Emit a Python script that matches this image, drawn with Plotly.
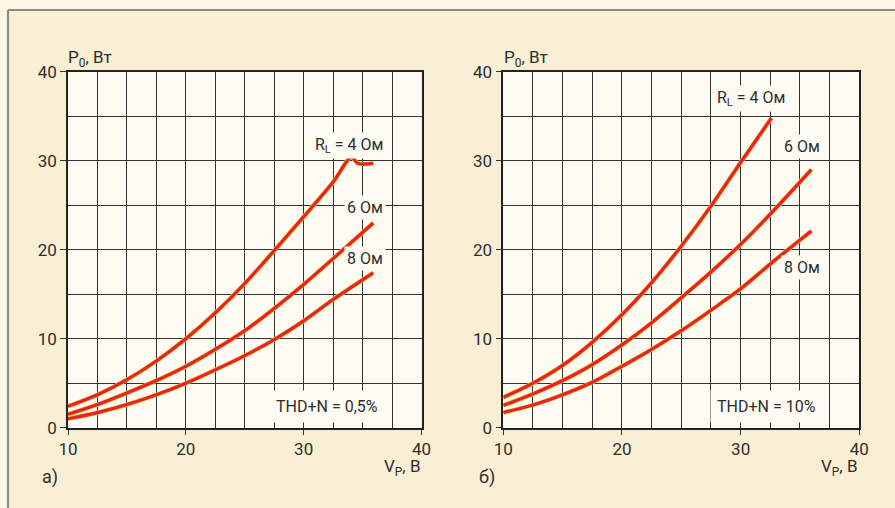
import plotly.graph_objects as go

# ---- data ----
# panel a) THD+N = 0.5 %
a_vp_4 = [10, 12.5, 15, 17.5, 20, 22.5, 25, 27.5, 30, 32.5, 34.05, 34.6, 35.9]
a_po_4 = [2.4, 3.7, 5.4, 7.5, 10.0, 12.9, 16.2, 19.9, 23.7, 27.6, 30.4, 29.7, 29.7]
a_vp_6 = [10, 12.5, 15, 17.5, 20, 22.5, 25, 27.5, 30, 32.5, 35.9]
a_po_6 = [1.5, 2.6, 3.9, 5.3, 6.9, 8.8, 10.9, 13.4, 16.1, 19.0, 23.0]
a_vp_8 = [10, 12.5, 15, 17.5, 20, 22.5, 25, 27.5, 30, 32.5, 35.9]
a_po_8 = [1.0, 1.7, 2.6, 3.7, 5.0, 6.5, 8.1, 9.9, 12.0, 14.4, 17.4]
# panel б) THD+N = 10 %
b_vp_4 = [10, 12.5, 15, 17.5, 20, 22.5, 25, 27.5, 30, 32.6]
b_po_4 = [3.4, 5.0, 7.0, 9.6, 12.7, 16.3, 20.4, 24.9, 29.8, 34.8]
b_vp_6 = [10, 12.5, 15, 17.5, 20, 22.5, 25, 27.5, 30, 32.5, 35.96]
b_po_6 = [2.5, 3.8, 5.3, 7.1, 9.3, 11.8, 14.6, 17.5, 20.6, 24.0, 29.0]
b_vp_8 = [10, 12.5, 15, 17.5, 20, 22.5, 25, 27.5, 30, 32.5, 35.96]
b_po_8 = [1.7, 2.55, 3.7, 5.1, 6.9, 8.8, 10.9, 13.2, 15.6, 18.4, 22.1]

x_ticks = [10, 20, 30, 40]
y_ticks = [0, 10, 20, 30, 40]

W, H = 895, 508
FONT = "Roboto, Liberation Sans, sans-serif"
TXT = "#2e2e2e"
RED = "#e8202a"
YEL = "#f4c51e"
BG = "#f8efd4"
PLOT_BG = "#fdfbf2"

fig = go.Figure()

def add_curve(x, y, xa, ya):
    fig.add_trace(go.Scatter(x=x, y=y, mode="lines", xaxis=xa, yaxis=ya,
                             line=dict(color=YEL, width=4.4, shape="spline", smoothing=0.9),
                             hoverinfo="skip", showlegend=False))
    fig.add_trace(go.Scatter(x=x, y=y, mode="lines", xaxis=xa, yaxis=ya,
                             line=dict(color=RED, width=3.2, shape="spline", smoothing=0.9),
                             showlegend=False))

add_curve(a_vp_4, a_po_4, "x", "y")
add_curve(a_vp_6, a_po_6, "x", "y")
add_curve(a_vp_8, a_po_8, "x", "y")
add_curve(b_vp_4, b_po_4, "x2", "y2")
add_curve(b_vp_6, b_po_6, "x2", "y2")
add_curve(b_vp_8, b_po_8, "x2", "y2")

def xaxis_cfg(dom, anchor):
    return dict(domain=dom, range=[10, 40], anchor=anchor, automargin=False,
                tickvals=x_ticks, ticktext=[str(v) for v in x_ticks],
                showgrid=True, gridcolor="#333333", gridwidth=1.3,
                minor=dict(dtick=2.5, tick0=10, showgrid=True, gridcolor="#333333", gridwidth=1.3, ticks=""),
                ticks="outside", ticklen=5, tickcolor="#333333", tickwidth=1.3,
                showline=True, linecolor="#222222", linewidth=1.6, mirror=True,
                zeroline=False, tickfont=dict(family=FONT, size=17, color=TXT), fixedrange=True)

def yaxis_cfg(dom, anchor):
    return dict(domain=dom, range=[0, 40], anchor=anchor, automargin=False,
                tickvals=y_ticks, ticktext=[str(v) for v in y_ticks],
                showgrid=True, gridcolor="#333333", gridwidth=1.3,
                minor=dict(dtick=5, tick0=0, showgrid=True, gridcolor="#333333", gridwidth=1.3, ticks=""),
                ticks="outside", ticklen=6, tickcolor="#333333", tickwidth=1.3,
                showline=True, linecolor="#222222", linewidth=1.6, mirror=True,
                zeroline=False, tickfont=dict(family=FONT, size=17, color=TXT), fixedrange=True)

ydom = [1 - 427.7 / H, 1 - 71.7 / H]
fig.update_layout(
    width=W, height=H, margin=dict(l=0, r=0, t=0, b=0, pad=0, autoexpand=False),
    paper_bgcolor=BG, plot_bgcolor=PLOT_BG,
    xaxis=xaxis_cfg([68 / W, 421.5 / W], "y"),
    yaxis=yaxis_cfg(ydom, "x"),
    xaxis2=xaxis_cfg([503.3 / W, 859.3 / W], "y2"),
    yaxis2=yaxis_cfg(ydom, "x2"),
)

# frame of the page
fig.add_shape(type="rect", xref="paper", yref="paper",
              x0=0, x1=8 / W, y0=0, y1=1, fillcolor="#fbf6e6", line_width=0, layer="below")
fig.add_shape(type="rect", xref="paper", yref="paper",
              x0=0, x1=1, y0=1 - 10 / H, y1=1, fillcolor="#fbf6e6", line_width=0, layer="below")
fig.add_shape(type="line", xref="paper", yref="paper",
              x0=8 / W, x1=1, y0=1 - 10 / H, y1=1 - 10 / H, line=dict(color="#8c8c8c", width=2.2))
fig.add_shape(type="line", xref="paper", yref="paper",
              x0=8 / W, x1=8 / W, y0=0, y1=1 - 10 / H, line=dict(color="#8c8c8c", width=2.2))

def lab(text, x, y, xref, yref, xanchor="right", size=16, bg=PLOT_BG, pad=2):
    fig.add_annotation(text=text, x=x, y=y, xref=xref, yref=yref, xanchor=xanchor, yanchor="middle",
                       showarrow=False, bgcolor=bg, borderpad=pad,
                       font=dict(family=FONT, size=size, color=TXT))

# curve labels, panel a
lab("R<sub>L</sub> = 4 Ом", 37.0, 31.7, "x", "y")
lab("6 Ом", 36.95, 24.7, "x", "y")
lab("8 Ом", 36.95, 19.0, "x", "y")
lab("THD+N = 0,5%", 36.9, 2.35, "x", "y", pad=6)
# curve labels, panel б
lab("R<sub>L</sub> = 4 Ом", 34.0, 37.0, "x2", "y2")
lab("6 Ом", 36.97, 31.6, "x2", "y2")
lab("8 Ом", 36.97, 18.0, "x2", "y2")
lab("THD+N = 10%", 36.9, 2.35, "x2", "y2", pad=6)

# axis titles and panel letters
for x0, x1 in [(67, 421.5), (503, 859)]:
    lab("P<sub>0</sub>, Вт", x0 / W, 1 - 58 / H, "paper", "paper", xanchor="left", size=17, bg="rgba(0,0,0,0)", pad=0)
    lab("V<sub>P</sub>, В", x1 / W, 1 - 467 / H, "paper", "paper", xanchor="right", size=17, bg="rgba(0,0,0,0)", pad=0)
lab("а)", 41 / W, 1 - 477 / H, "paper", "paper", xanchor="left", size=18, bg="rgba(0,0,0,0)", pad=0)
lab("б)", 478 / W, 1 - 477 / H, "paper", "paper", xanchor="left", size=18, bg="rgba(0,0,0,0)", pad=0)

fig.write_html(
    "out.html",
    config={"displayModeBar": False},
    post_script="document.body.style.margin='0';document.body.style.padding='0';"
                "document.documentElement.style.overflow='hidden';",
)
